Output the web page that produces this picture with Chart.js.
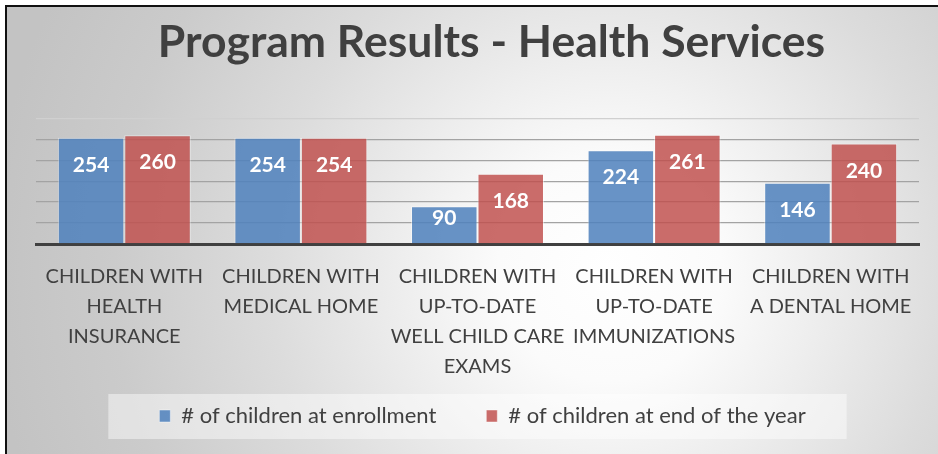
<!DOCTYPE html>
<html>
<head>
<meta charset="utf-8">
<title>Program Results - Health Services</title>
<script src="https://cdn.jsdelivr.net/npm/chart.js@4.4.1/dist/chart.umd.min.js"></script>
<style>
  html, body { margin: 0; padding: 0; background: #fff; }
  #wrap { width: 938px; height: 454px; position: relative; }
</style>
</head>
<body>
<div id="wrap"><canvas id="chart"></canvas></div>
<script>
// ===== DATOS =====
const categories = [
  ['CHILDREN WITH', 'HEALTH', 'INSURANCE'],
  ['CHILDREN WITH', 'MEDICAL HOME'],
  ['CHILDREN WITH', 'UP-TO-DATE', 'WELL CHILD CARE', 'EXAMS'],
  ['CHILDREN WITH', 'UP-TO-DATE', 'IMMUNIZATIONS'],
  ['CHILDREN WITH', 'A DENTAL HOME']
];
const atEnrollment = [254, 254, 90, 224, 146];
const atEndOfYear = [260, 254, 168, 261, 240];
const seriesNames = ['# of children at enrollment', '# of children at end of the year'];

const TEXT = '#404040';

// fondo degradado, marco y caja de la leyenda
const backgroundPlugin = {
  id: 'background',
  afterLayout(chart) {
    // las etiquetas del eje x bajan por encima de la leyenda: ampliar el recorte
    chart.scales.x.bottom = chart.height;
    // título y leyenda van algo desplazados a la derecha
    chart.titleBlock.left += 14;
    chart.titleBlock.right += 14;
    chart.legend.left += 5;
    chart.legend.right += 5;
  },
  beforeDraw(chart) {
    const { ctx, width, height } = chart;
    ctx.save();
    ctx.fillStyle = '#ffffff';
    ctx.fillRect(0, 0, width, height);
    const g = ctx.createRadialGradient(610, 270, 0, 610, 270, 620);
    g.addColorStop(0, '#ffffff');
    g.addColorStop(0.18, '#fbfbfb');
    g.addColorStop(0.55, '#dcdcdc');
    g.addColorStop(0.8, '#cbcbcb');
    g.addColorStop(1, '#c3c3c3');
    ctx.fillStyle = g;
    ctx.fillRect(6, 6, width - 6, height - 6);
    ctx.fillStyle = '#111';
    ctx.fillRect(5, 5, width - 5, 2);
    ctx.fillRect(5, 5, 2, height - 5);

    const boxes = chart.legend.legendHitBoxes;
    if (boxes && boxes.length) {
      const first = boxes[0];
      const last = boxes[boxes.length - 1];
      const cy = first.top + first.height / 2;
      const x0 = first.left - 51;
      const x1 = last.left + last.width + 41;
      ctx.fillStyle = 'rgba(255,255,255,0.45)';
      ctx.fillRect(x0, cy - 22, x1 - x0, 45);
    }
    ctx.restore();
  }
};

// etiquetas de valor dentro de las barras
const valueLabels = {
  id: 'valueLabels',
  afterDatasetsDraw(chart) {
    const { ctx } = chart;
    ctx.save();
    ctx.fillStyle = '#ffffff';
    ctx.font = 'bold 21px Lato';
    ctx.textAlign = 'center';
    ctx.textBaseline = 'middle';
    chart.data.datasets.forEach((ds, i) => {
      chart.getDatasetMeta(i).data.forEach((bar, j) => {
        const y = Math.min(bar.y + 27.5, bar.base - 25);
        ctx.fillText(String(ds.data[j]), bar.x, y);
      });
    });
    ctx.restore();
  }
};

new Chart(document.getElementById('chart'), {
  type: 'bar',
  data: {
    labels: categories,
    datasets: [
      {
        label: seriesNames[0],
        data: atEnrollment,
        backgroundColor: 'rgba(79,129,189,0.86)',
        borderColor: 'rgba(255,255,255,0.45)',
        borderWidth: 1
      },
      {
        label: seriesNames[1],
        data: atEndOfYear,
        backgroundColor: 'rgba(192,80,77,0.84)',
        borderColor: 'rgba(255,255,255,0.45)',
        borderWidth: 1
      }
    ]
  },
  options: {
    responsive: true,
    maintainAspectRatio: false,
    animation: false,
    categoryPercentage: 0.753,
    barPercentage: 1,
    layout: { padding: { left: 36, right: 19, top: 0, bottom: 17 } },
    plugins: {
      title: {
        display: true,
        text: 'Program Results - Health Services',
        color: TEXT,
        font: { family: 'Lato', size: 44.5, weight: 'bold' },
        padding: { top: 16, bottom: 49 }
      },
      legend: {
        position: 'bottom',
        labels: {
          color: TEXT,
          font: { family: 'Lato', size: 22 },
          boxWidth: 11,
          boxHeight: 12,
          padding: 50
        }
      },
      tooltip: { enabled: false }
    },
    scales: {
      x: {
        grid: { display: false },
        border: { color: TEXT, width: 3 },
        ticks: {
          color: TEXT,
          font: { family: 'Lato', size: 20, lineHeight: 1.5 },
          padding: 10,
          maxRotation: 0,
          autoSkip: false
        },
        afterFit(scale) { scale.height = 111; }
      },
      y: {
        min: 0,
        max: 300,
        ticks: { display: false, stepSize: 50 },
        border: { display: false },
        grid: {
          drawTicks: false,
          lineWidth: 1.3,
          color: (c) => c.tick.value === 0 ? 'transparent' : (c.tick.value === 300 ? '#d0d0d0' : '#a3a3a3')
        }
      }
    }
  },
  plugins: [backgroundPlugin, valueLabels]
});
</script>
</body>
</html>
